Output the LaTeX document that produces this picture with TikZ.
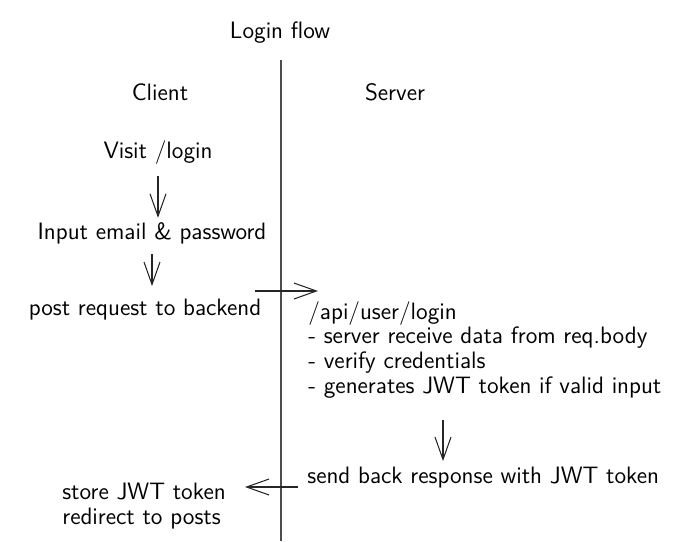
\documentclass[tikz,border=0pt]{standalone}
\usepackage{tikz}
\usetikzlibrary{arrows.meta, calc}

\begin{document}
\begin{tikzpicture}[x=0.02cm, y=-0.02cm,
    every node/.style={font=\sffamily\fontsize{13.5}{14.2}\selectfont, inner sep=0pt},
    flow/.style={-{Straight Barb[length=0.45cm, width=0.32cm]}, draw=black!85, line width=0.6pt},
    lane/.style={draw=black!70, line width=1.2pt}]
    \useasboundingbox (0, 0) rectangle (689, 541);

    % titles and lanes
    \node (title) at (280, 33) {Login flow};
    \node (client) at (160, 92) {Client};
    \node (server) at (395, 92) {Server};
    \coordinate (lanetop) at (281, 60);
    \coordinate (lanebot) at (281, 541);
    \draw[lane] (lanetop) -- (lanebot);

    % client side
    \node (visit) at (158, 153) {Visit /login};
    \node (input) at (152, 233) {Input email \& password};
    \node (post) at (145, 310) {post request to backend};
    \node[anchor=west, align=left] (store) at (62, 506) {store JWT token\\redirect to posts};

    % server side
    \node[anchor=west, align=left] (api) at (308, 350) {/api/user/login\\
        - server receive data from req.body\\
        - verify credentials\\
        - generates JWT token if valid input};
    \node[anchor=west] (send) at (307, 478) {send back response with JWT token};

    \coordinate (reqout) at (255, 291);
    \coordinate (reqin) at (318, 291);
    \coordinate (gen) at (443, 420);
    \coordinate (resout) at (298, 487);
    \coordinate (resin) at (245, 487);

    \draw[flow, shorten <=0.22cm, shorten >=0.08cm] (visit.south) -- (visit.south |- input.north);
    \draw[flow, shorten <=0.2cm, shorten >=0.26cm] (input.south) -- (input.south |- post.north);
    \draw[flow] (reqout) -- (reqin);
    \draw[flow, shorten >=0.12cm] (gen) -- (gen |- send.north);
    \draw[flow] (resout) -- (resin);
\end{tikzpicture}
\end{document}
